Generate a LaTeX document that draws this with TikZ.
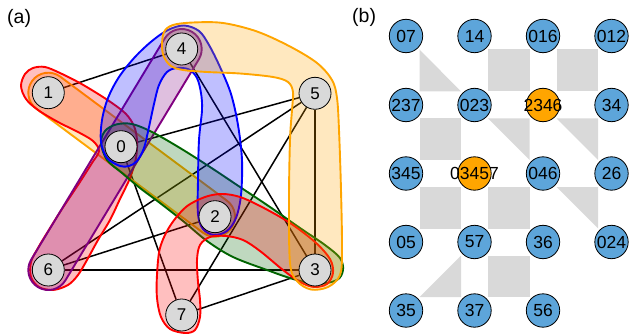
\documentclass[tikz,border=0pt]{standalone}
\usepackage{fontspec}
\setmainfont{Liberation Sans}
\usetikzlibrary{calc}
\pgfdeclarelayer{edgelayer}
\pgfdeclarelayer{hyperlayer}
\pgfsetlayers{edgelayer,hyperlayer,main}
\definecolor{nodegray}{RGB}{217,217,217}
\definecolor{cellblue}{RGB}{93,165,218}
\definecolor{cellorange}{RGB}{255,165,0}
\definecolor{hgreen}{RGB}{0,100,0}
\definecolor{hpurple}{RGB}{128,0,128}
\definecolor{horange}{RGB}{255,165,0}
\definecolor{shadegray}{RGB}{217,217,217}
% zero-width label so wide names overflow the disc instead of growing it
\newcommand\cellname[1]{\makebox[0pt]{#1}}
% rounded band around the segment from #2 to #3, radius #4, colour #1
\newcommand\capsule[4]{%
  \path[hyper=#1] let \p1=($(#3)-(#2)$), \n1={atan2(\y1,\x1)} in
    ($(#2)+(\n1+90:#4)$) arc[start angle=\n1+90, delta angle=180, radius=#4]
    -- ($(#3)+(\n1-90:#4)$) arc[start angle=\n1-90, delta angle=180, radius=#4] -- cycle;}
\tikzset{
  vtx/.style={circle, draw=black, line width=0.8pt, fill=nodegray, minimum size=32pt,
    inner sep=0pt, font=\fontsize{17}{19}\selectfont},
  cell/.style={circle, draw=black, line width=0.8pt, fill=cellblue, minimum size=33.4pt,
    inner sep=0pt, font=\fontsize{17.5}{19}\selectfont},
  hot/.style={cell, fill=cellorange},
  link/.style={line width=1.5pt, black},
  hyper/.style={line width=1.9pt, draw=#1, fill=#1, fill opacity=0.25},
  shade/.style={fill=shadegray},
  panel/.style={font=\fontsize{19.5}{21}\selectfont, anchor=west, inner sep=0pt}
}
\begin{document}
\begin{tikzpicture}[x=1pt,y=-1pt]
\useasboundingbox (0,0) rectangle (629,334);

% panel labels
\node[panel] (la) at (7,18) {(a)};
\node[panel] (lb) at (352,17) {(b)};

% ---------- (a) hypergraph ----------
\node[vtx] (v4) at (181.7,49) {4};
\node[vtx] (v1) at (48.3,92.7) {1};
\node[vtx] (v5) at (315,93.3) {5};
\node[vtx] (v0) at (121,146.7) {0};
\node[vtx] (v2) at (215,216.7) {2};
\node[vtx] (v6) at (48.3,270) {6};
\node[vtx] (v3) at (315,270) {3};
\node[vtx] (v7) at (181.7,315) {7};

\begin{pgfonlayer}{edgelayer}
  \foreach \a/\b in {v1/v4, v4/v3, v0/v5, v0/v7, v5/v6, v5/v7, v5/v3, v6/v2, v6/v3, v7/v3}
    \draw[link] (\a) -- (\b);
\end{pgfonlayer}

\begin{pgfonlayer}{hyperlayer}
  % {0,1,2}
  \capsule{horange}{v1}{v2}{20pt}
  % {0,1,6}
  \path[hyper=red] plot[smooth cycle, tension=0.55] coordinates {
    (45,67) (60,73) (78,82) (95,92) (112,103) (126,114) (134,126) (137,140)
    (136,158) (130,178) (120,199) (110,220) (98,240) (87,260) (78,275) (68,285)
    (53,290) (39,287) (31,277) (31,262) (38,248) (47,233) (62,209) (78,185)
    (92,163) (99,151) (93,141) (78,132) (58,122) (38,110) (26,99) (21,86)
    (25,74) (33,68)};
  % {0,4,6}
  \capsule{hpurple}{v4}{v6}{20pt}
  % {0,2,3}
  \path[hyper=hgreen] plot[smooth cycle, tension=0.55] coordinates {
    (101,143) (105,131) (116,124.5) (132,124) (152,132) (180,148) (210,167)
    (240,187) (270,207) (300,228) (325,245) (340,258) (343,270) (337,280)
    (317,284) (293,279) (267,270) (233,257) (207,241) (183,221) (160,203)
    (140,188) (122,173) (107,160)};
  % {0,2,4}
  \path[hyper=blue] plot[smooth cycle, tension=0.55] coordinates {
    (120,166) (107,158) (101,142) (102,120) (108,98) (119,77) (135,57)
    (152,41) (168,30) (184,25.5) (199,31) (209,45) (220,67) (231,94)
    (238,125) (242,160) (241,195) (236,218) (227,231) (214,235) (203,229)
    (198,214) (198,180) (199,140) (202,110) (201,93) (197,78) (189,69.5)
    (177,68) (167,72) (159,85) (154,104) (149,127) (144,148) (137,161) (129,166)};
  % {2,3,7}
  \path[hyper=red] plot[smooth cycle, tension=0.55] coordinates {
    (185,333) (170,329) (161,317) (157,298) (157,275) (160,248) (170,226)
    (186,207) (205,197) (222,194) (240,197) (262,207) (290,223) (315,242)
    (330,259) (333,273) (327,284) (314,287) (300,282) (283,270) (260,251)
    (243,240) (226,236) (210,237) (200,245) (197,260) (198,282) (200,300)
    (200,317) (195,330)};
  % {3,4,5}
  \path[hyper=horange] plot[smooth cycle, tension=0.55] coordinates {
    (162,46) (164,32) (173,25) (193,22.5) (223,23) (257,31.5) (290,46.5)
    (317,63) (332,80) (337,98) (339,130) (341,190) (342,250) (340,275)
    (328,287) (311,289.5) (297,281) (290,263) (289,200) (290,140) (292,110)
    (293,92) (288,82) (273,77) (240,73.5) (207,72) (183,70) (171,66) (164,57)};
\end{pgfonlayer}

% ---------- (b) grid ----------
\node[cell] (c07)    at (406,36)      {\cellname{07}};
\node[cell] (c14)    at (474.5,36)    {\cellname{14}};
\node[cell] (c016)   at (543,36)      {\cellname{016}};
\node[cell] (c012)   at (611.5,36)    {\cellname{012}};
\node[cell] (c237)   at (406,105)     {\cellname{237}};
\node[cell] (c023)   at (474.5,105)   {\cellname{023}};
\node[hot]  (c2346)  at (543,105)     {\cellname{2346}};
\node[cell] (c34)    at (611.5,105)   {\cellname{34}};
\node[cell] (c345)   at (406,173.5)   {\cellname{345}};
\node[hot]  (c03457) at (474.5,173.5) {\cellname{03457}};
\node[cell] (c046)   at (543,173.5)   {\cellname{046}};
\node[cell] (c26)    at (611.5,173.5) {\cellname{26}};
\node[cell] (c05)    at (406,242)     {\cellname{05}};
\node[cell] (c57)    at (474.5,242)   {\cellname{57}};
\node[cell] (c36)    at (543,242)     {\cellname{36}};
\node[cell] (c024)   at (611.5,242)   {\cellname{024}};
\node[cell] (c35)    at (406,310.5)   {\cellname{35}};
\node[cell] (c37)    at (474.5,310.5) {\cellname{37}};
\node[cell] (c56)    at (543,310.5)   {\cellname{56}};

\begin{pgfonlayer}{edgelayer}
  % full squares between four neighbours
  \foreach \a/\b in {c14/c2346, c016/c34, c237/c03457, c345/c57, c03457/c36, c57/c56}
    \fill[shade] ($(\a)+(13.5,13.5)$) rectangle ($(\b)-(13.5,13.5)$);
  % half squares
  \coordinate (t1a) at ($(c07)+(13.5,13.5)$);   \coordinate (t1b) at ($(c023)-(13.5,13.5)$);
  \fill[shade] (t1a) -- (t1a |- t1b) -- (t1b) -- cycle;
  \foreach \a/\b in {c023/c046, c2346/c26, c046/c024} {
    \coordinate (ua) at ($(\a)+(13.5,13.5)$); \coordinate (ub) at ($(\b)-(13.5,13.5)$);
    \fill[shade] (ua) -- (ub |- ua) -- (ub) -- cycle;
  }
  \coordinate (t5a) at ($(c05)+(13.5,13.5)$);   \coordinate (t5b) at ($(c37)-(13.5,13.5)$);
  \fill[shade] (t5b |- t5a) -- (t5b) -- (t5a |- t5b) -- cycle;
\end{pgfonlayer}
\end{tikzpicture}
\end{document}
